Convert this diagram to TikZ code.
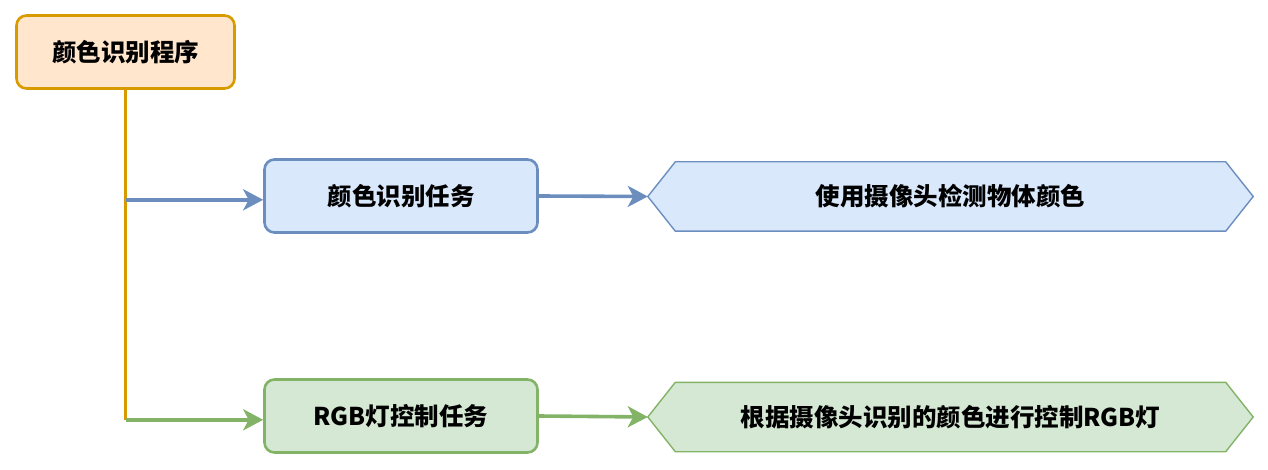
\documentclass[tikz,border=0pt]{standalone}
\usepackage{fontspec}
\setmainfont{Noto Sans CJK SC}
\usetikzlibrary{arrows.meta,calc}
\definecolor{obd}{HTML}{D79B00}
\definecolor{ofill}{HTML}{FFE6CC}
\definecolor{bbd}{HTML}{6C8EBF}
\definecolor{bfill}{HTML}{DAE8FC}
\definecolor{gbd}{HTML}{82B366}
\definecolor{gfill}{HTML}{D5E8D4}
\tikzset{
  box/.style={rectangle, rounded corners=10pt, line width=2.6pt, minimum width=273pt, minimum height=73pt, inner sep=0pt, font=\fontsize{24.5}{28}\selectfont\bfseries},
  hexlabel/.style={rectangle, minimum width=605pt, minimum height=69pt, inner sep=0pt, font=\fontsize{24.5}{28}\selectfont\bfseries},
  hexline/.style={line width=1.4pt, line join=miter},
  trunk/.style={draw=obd, line width=3.2pt},
  conn/.style={line width=3.6pt, -{Stealth[length=20pt, width=21pt, inset=5.5pt]}},
}
\begin{document}
\begin{tikzpicture}[x=1pt,y=-1pt]
\useasboundingbox (0,0) rectangle (1268,470);
\node[box, draw=obd, fill=ofill, minimum width=218pt] (root) at (125.5,52) {颜色识别程序};
\node[box, draw=bbd, fill=bfill] (b1) at (401,196) {颜色识别任务};
\node[box, draw=gbd, fill=gfill] (g1) at (401,416) {RGB灯控制任务};
\node[hexlabel] (h1) at (950.5,196.5) {};
\node[hexlabel] (h2) at (950.5,417) {};
\filldraw[hexline, draw=bbd, fill=bfill] (h1.west) -- ($(h1.north west)+(27.5,0)$) -- ($(h1.north east)+(-27.5,0)$) -- (h1.east) -- ($(h1.south east)+(-27.5,0)$) -- ($(h1.south west)+(27.5,0)$) -- cycle;
\filldraw[hexline, draw=gbd, fill=gfill] (h2.west) -- ($(h2.north west)+(27.5,0)$) -- ($(h2.north east)+(-27.5,0)$) -- (h2.east) -- ($(h2.south east)+(-27.5,0)$) -- ($(h2.south west)+(27.5,0)$) -- cycle;
\node[hexlabel] at (h1) {使用摄像头检测物体颜色};
\node[hexlabel] at (h2) {根据摄像头识别的颜色进行控制RGB灯};
\coordinate (j1) at ($(root.south)+(0,110)$);
\coordinate (j2) at ($(root.south)+(0,330)$);
\draw[trunk] (root.south) -- (j2);
\draw[conn, draw=bbd, fill=bbd] (j1) -- (j1 -| b1.west);
\draw[conn, draw=gbd, fill=gbd] (j2) -- (j2 -| g1.west);
\draw[conn, draw=bbd, fill=bbd] (b1.east) -- (h1.west);
\draw[conn, draw=gbd, fill=gbd] (g1.east) -- (h2.west);
\end{tikzpicture}
\end{document}
